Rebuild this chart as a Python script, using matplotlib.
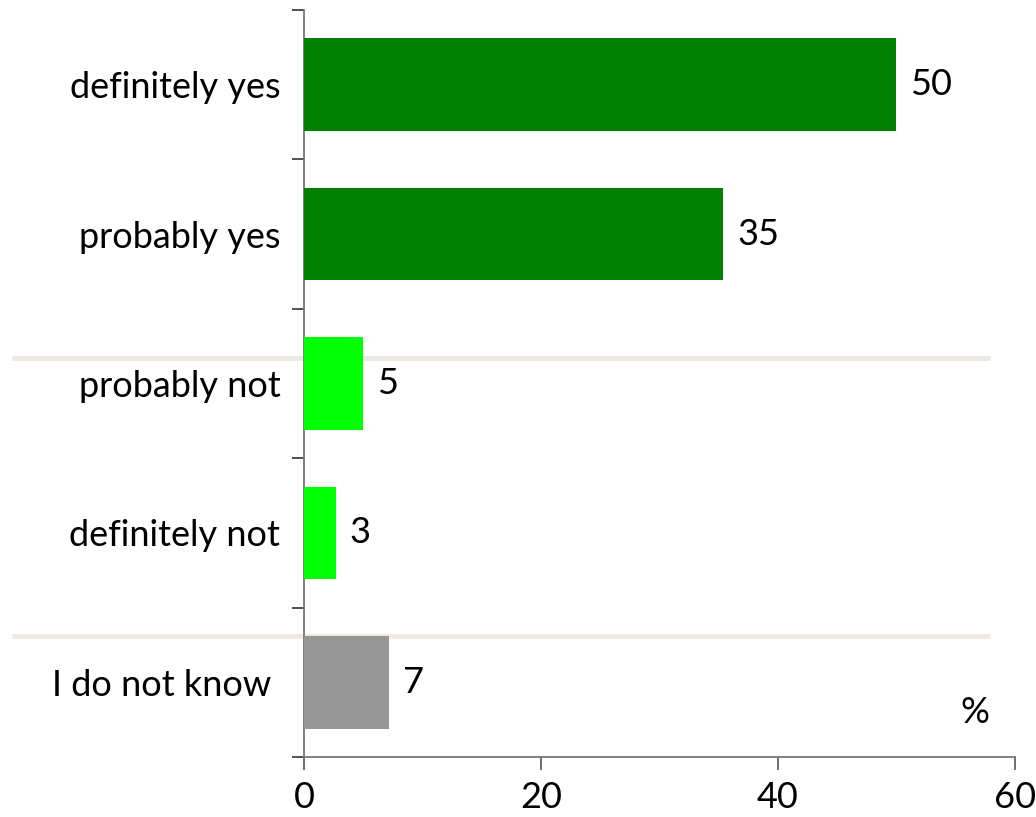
import matplotlib.pyplot as plt
import numpy as np

plt.rcParams['font.family'] = ['Lato', 'DejaVu Sans']

answers = ["definitely yes", "probably yes", "probably not", "definitely not", "I do not know "]
shares = [50.0, 35.4, 5.0, 2.7, 7.2]
bar_colors = ["#007f00", "#007f00", "#00ff00", "#00ff00", "#969696"]
x_ticks = [0, 20, 40, 60]

fig = plt.figure(figsize=(10.36, 8.17), dpi=100)
ax = fig.add_axes([0.2934, 0.0734, 0.6863, 0.9144])

ypos = np.arange(len(answers))
ax.barh(ypos, shares, height=0.62, color=bar_colors, zorder=3)

for y, v in zip(ypos, shares):
    ax.annotate(f"{v:.0f}", (v, y), xytext=(10, 0), textcoords="offset points",
                va="center", ha="left", fontsize=26)

# group separators
for ysep in [1.83, 3.69]:
    ax.plot([-24.6, 57.9], [ysep, ysep], color="#ebe9e0", lw=3.5,
            clip_on=False, zorder=1, solid_capstyle="butt")

ax.text(56.6, 4.2, "%", fontsize=26, ha="center", va="center")

ax.set_xlim(0, 60)
ax.set_ylim(4.5, -0.5)
ax.set_xticks(x_ticks)
ax.set_xticklabels([str(t) for t in x_ticks], fontsize=26)
ax.set_yticks(ypos)
ax.set_yticklabels(answers, fontsize=26)
ax.set_yticks(np.arange(-0.5, len(answers)), minor=True)

ax.tick_params(axis="y", which="major", length=0, pad=17)
ax.tick_params(axis="y", which="minor", length=9, width=1.2, color="#333333")
ax.tick_params(axis="x", length=9, width=1.2, color="#555555", pad=8)

for s in ["top", "right"]:
    ax.spines[s].set_visible(False)
ax.spines["left"].set_color("#777777")
ax.spines["bottom"].set_color("#777777")
ax.spines["left"].set_linewidth(1.3)
ax.spines["bottom"].set_linewidth(1.3)

fig.savefig("out.png", dpi=100)
